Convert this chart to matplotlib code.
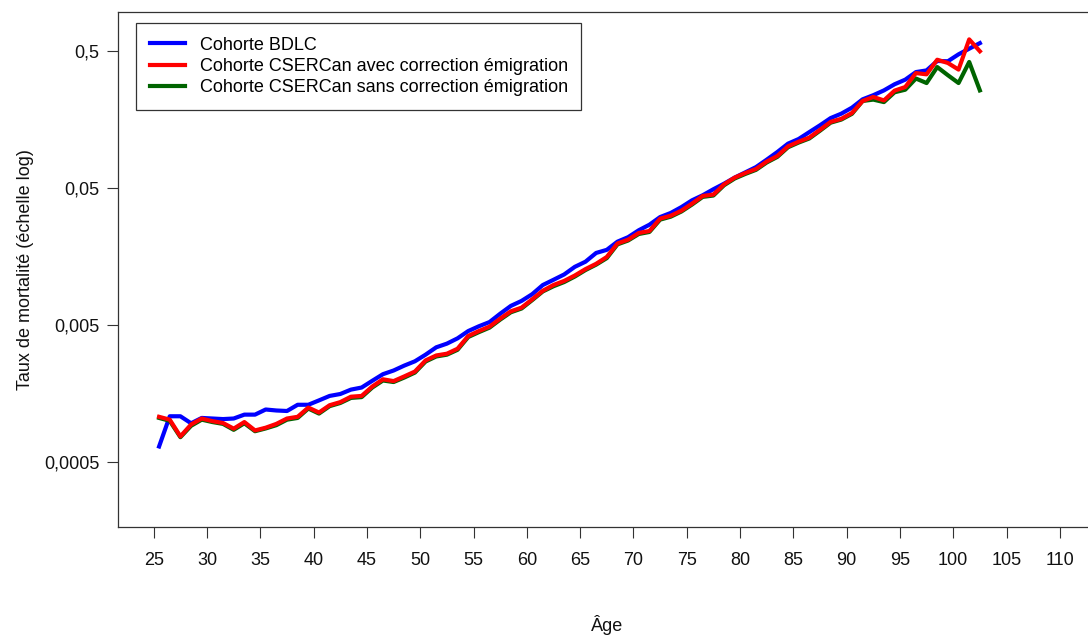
import numpy as np
import matplotlib
matplotlib.use("Agg")
import matplotlib.pyplot as plt

plt.rcParams["font.family"] = ["Liberation Sans", "DejaVu Sans"]

# ages (mid-year) and mortality rates per cohort
ages = np.arange(25.5, 103.0, 1.0)

bdlc = [
    0.00065, 0.00108, 0.00108, 0.00096, 0.00105, 0.00104, 0.00103, 0.00104,
    0.00111, 0.00111, 0.00121, 0.00119, 0.00118, 0.00131, 0.00131, 0.00141,
    0.00152, 0.00157, 0.00169, 0.00175, 0.00196, 0.00219, 0.00233, 0.00253,
    0.00272, 0.00304, 0.00344, 0.00366, 0.0040, 0.00452, 0.0049, 0.00526,
    0.00605, 0.0069, 0.0075, 0.0084, 0.0098, 0.0107, 0.0117, 0.0133,
    0.0145, 0.0168, 0.0177, 0.0203, 0.0219, 0.0246, 0.0270, 0.0307,
    0.0329, 0.0363, 0.0407, 0.0443, 0.0490, 0.0538, 0.0596, 0.0651,
    0.0711, 0.0805, 0.0916, 0.1054, 0.114, 0.128, 0.1435, 0.162,
    0.1745, 0.193, 0.222, 0.238, 0.258, 0.286, 0.309, 0.351,
    0.361, 0.423, 0.421, 0.473, 0.520, 0.571,
]

cser_avec = [
    0.00107, 0.00102, 0.00077, 0.00094, 0.00104, 0.000995, 0.000964, 0.000877,
    0.00098, 0.000851, 0.000891, 0.00095, 0.00104, 0.00107, 0.00125, 0.00115,
    0.0013, 0.00137, 0.0015, 0.00152, 0.00178, 0.00201, 0.00195, 0.00211,
    0.00229, 0.00276, 0.0030, 0.00309, 0.00336, 0.00416, 0.00452, 0.00487,
    0.00557, 0.0063, 0.0067, 0.0077, 0.0089, 0.0098, 0.0105, 0.0115,
    0.0128, 0.0140, 0.0157, 0.0197, 0.0210, 0.0235, 0.0243, 0.0299,
    0.0314, 0.0342, 0.0385, 0.0438, 0.0448, 0.0532, 0.0596, 0.0644,
    0.0689, 0.0780, 0.0857, 0.1007, 0.109, 0.1167, 0.133, 0.152,
    0.160, 0.1765, 0.216, 0.231, 0.218, 0.257, 0.273, 0.345,
    0.338, 0.432, 0.409, 0.366, 0.608, 0.498,
]

cser_sans = [
    0.00105, 0.00100, 0.00076, 0.00092, 0.00102, 0.00098, 0.00095, 0.00086,
    0.00096, 0.00084, 0.00088, 0.00093, 0.00102, 0.00105, 0.00123, 0.00113,
    0.00128, 0.00135, 0.00147, 0.00149, 0.00175, 0.00197, 0.00192, 0.00207,
    0.00225, 0.00271, 0.00295, 0.00304, 0.0033, 0.00409, 0.00444, 0.00479,
    0.00548, 0.0062, 0.0066, 0.0076, 0.0088, 0.0096, 0.0103, 0.0113,
    0.0126, 0.0138, 0.0154, 0.0194, 0.0207, 0.0231, 0.0239, 0.0294,
    0.0309, 0.0337, 0.0379, 0.0431, 0.0441, 0.0524, 0.0587, 0.0634,
    0.0679, 0.0768, 0.0844, 0.0992, 0.1074, 0.115, 0.131, 0.150,
    0.158, 0.174, 0.216, 0.221, 0.212, 0.250, 0.261, 0.315,
    0.292, 0.382, 0.333, 0.292, 0.416, 0.258,
]

y_ticks = [0.0005, 0.005, 0.05, 0.5]
y_labels = ["0,0005", "0,005", "0,05", "0,5"]
x_ticks = list(range(25, 111, 5))

fs = 13

fig = plt.figure(figsize=(10.88, 6.36), dpi=100)
ax = fig.add_axes([0.1085, 0.1714, 0.8989, 0.8097])

ax.plot(ages, bdlc, color="#0000ff", lw=3.0, label="Cohorte BDLC", zorder=2)
ax.plot(ages, cser_sans, color="#006400", lw=3.0, zorder=3,
        label="Cohorte CSERCan sans correction émigration")
ax.plot(ages, cser_avec, color="#ff0000", lw=3.0, zorder=4,
        label="Cohorte CSERCan avec correction émigration")

ax.set_yscale("log")
ax.set_xlim(21.65, 113.4)
ax.set_ylim(0.000168, 0.963)
ax.set_yticks(y_ticks)
ax.set_yticklabels(y_labels)
ax.minorticks_off()
ax.set_xticks(x_ticks)
ax.set_xticklabels([str(t) for t in x_ticks])

ax.tick_params(axis="both", labelsize=fs, length=8, width=0.8,
               color="#333333", labelcolor="#111111")
ax.tick_params(axis="y", pad=5.5)
ax.tick_params(axis="x", pad=10)
for s in ax.spines.values():
    s.set_linewidth(0.9)
    s.set_color("#333333")

ax.set_xlabel("Âge", fontsize=fs, labelpad=33, color="#111111")
ax.set_ylabel("Taux de mortalité (échelle log)", fontsize=fs,
              labelpad=7, color="#111111")

handles, labels = ax.get_legend_handles_labels()
order = [0, 2, 1]
leg = ax.legend([handles[i] for i in order], [labels[i] for i in order],
                loc="upper left", bbox_to_anchor=(0.0184, 0.9786),
                borderaxespad=0, fontsize=fs, handlelength=1.95,
                handletextpad=0.83, labelspacing=0.24, borderpad=0.75,
                fancybox=False, framealpha=1, edgecolor="#333333")
leg.get_frame().set_linewidth(0.9)

fig.savefig("out.png", dpi=100)
